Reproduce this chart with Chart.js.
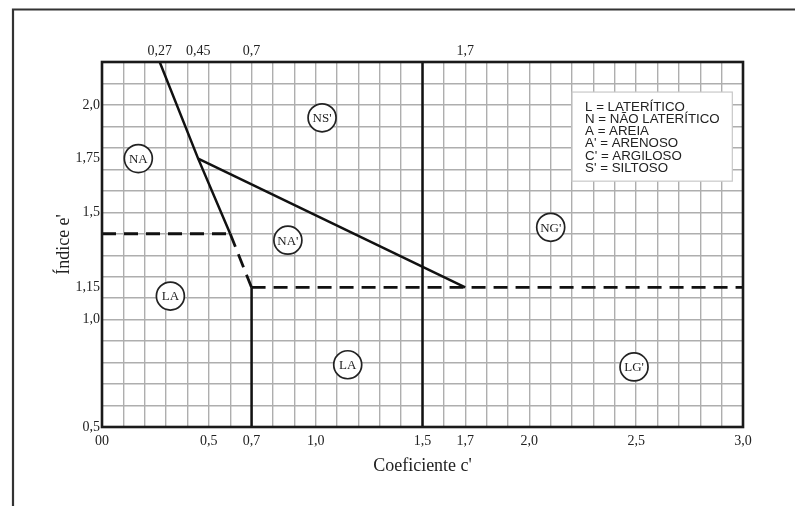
<!DOCTYPE html>
<html>
<head>
<meta charset="utf-8">
<script src="https://cdn.jsdelivr.net/npm/chart.js@4"></script>
<style>
html, body { margin: 0; padding: 0; background: #fff; }
#wrap { width: 795px; height: 506px; }
</style>
</head>
<body>
<div id="wrap"><canvas id="graficoMCT"></canvas></div>
<script>
// marcas dos eixos
const ticksC = [0, 0.5, 0.7, 1.0, 1.5, 1.7, 2.0, 2.5, 3.0];
const ticksCTopo = [0.27, 0.45, 0.7, 1.7];
const ticksE = [0.5, 1.0, 1.15, 1.5, 1.75, 2.0];

// limites entre os grupos (c', e')
const inclinadaC = [0.27, 0.45, 0.6];
const inclinadaE = [2.2, 1.75, 1.4];
const inclinadaTracC = [0.6, 0.7];
const inclinadaTracE = [1.4, 1.15];
const diagonalC = [0.45, 1.7];
const diagonalE = [1.75, 1.15];
const tracSupC = [0, 0.6];
const tracSupE = [1.4, 1.4];
const tracInfC = [0.7, 3.0];
const tracInfE = [1.15, 1.15];
const vert07C = [0.7, 0.7];
const vert07E = [0.5, 1.15];
const vert15C = [1.5, 1.5];
const vert15E = [0.5, 2.2];

// grupos
const grupos = ["NA", "NS'", "NA'", "LA", "LA", "NG'", "LG'"];
const gruposC = [0.17, 1.03, 0.87, 0.32, 1.15, 2.10, 2.49];
const gruposE = [1.75, 1.94, 1.37, 1.11, 0.79, 1.43, 0.78];

// legenda
const legendaTextos = ["L = LATERÍTICO", "N = NÃO LATERÍTICO", "A = AREIA", "A' = ARENOSO", "C' = ARGILOSO", "S' = SILTOSO"];

const pts = (xs, ys) => xs.map((x, i) => ({ x: x, y: ys[i] }));
const fmt = v => {
    if (Math.abs(v) < 1e-9) return "00";
    const s = Number.isInteger(v) ? v.toFixed(1) : String(+v.toFixed(2));
    return s.replace(".", ",");
};
const tem = (lista, v) => lista.some(t => Math.abs(t - v) < 1e-6);

const serif = "'Liberation Serif', 'DejaVu Serif', serif";
const fonteTick = { family: serif, size: 14 };
const corGrade = "#aeaeae";

function linha(xs, ys, tracejada) {
    return {
        type: "line",
        data: pts(xs, ys),
        borderColor: "#111",
        borderWidth: tracejada ? 2.8 : 2.5,
        borderDash: tracejada ? [14, 8] : [],
        pointRadius: 0,
        fill: false,
        tension: 0
    };
}

const datasets = [
    linha(inclinadaC, inclinadaE, false),
    linha(inclinadaTracC, inclinadaTracE, true),
    linha(diagonalC, diagonalE, false),
    linha(tracSupC, tracSupE, true),
    linha(tracInfC, tracInfE, true),
    linha(vert07C, vert07E, false),
    linha(vert15C, vert15E, false),
    {
        type: "scatter",
        data: pts(gruposC, gruposE),
        pointRadius: 14,
        pointHoverRadius: 14,
        pointBackgroundColor: "#fff",
        pointBorderColor: "#222",
        pointBorderWidth: 1.7
    }
];
const idxGrupos = datasets.length - 1;

const desenhos = {
    id: "desenhos",
    beforeDraw(chart) {
        const ctx = chart.ctx;
        ctx.save();
        ctx.fillStyle = "#fff";
        ctx.fillRect(0, 0, chart.width, chart.height);
        ctx.restore();
    },
    afterDatasetsDraw(chart) {
        const { ctx, chartArea: a, scales } = chart;
        ctx.save();

        // rótulos dos grupos
        ctx.fillStyle = "#222";
        ctx.font = "13px " + serif;
        ctx.textAlign = "center";
        ctx.textBaseline = "middle";
        chart.getDatasetMeta(idxGrupos).data.forEach((p, i) => {
            ctx.fillText(grupos[i], p.x, p.y + 1);
        });

        // caixa da legenda
        const x0 = scales.x.getPixelForValue(2.2);
        const x1 = scales.x.getPixelForValue(2.95);
        const y0 = scales.y.getPixelForValue(2.06);
        const y1 = scales.y.getPixelForValue(1.645);
        ctx.fillStyle = "#fff";
        ctx.fillRect(x0, y0, x1 - x0, y1 - y0);
        ctx.strokeStyle = "#c8c8c8";
        ctx.lineWidth = 1.2;
        ctx.strokeRect(x0, y0, x1 - x0, y1 - y0);
        ctx.fillStyle = "#222";
        ctx.font = "13.3px 'Liberation Sans', Arial, sans-serif";
        ctx.textAlign = "left";
        legendaTextos.forEach((t, i) => {
            ctx.fillText(t, x0 + 13, y0 + 15 + i * 12.2);
        });

        // moldura da área do gráfico
        ctx.strokeStyle = "#1a1a1a";
        ctx.lineWidth = 2.6;
        ctx.strokeRect(a.left, a.top, a.right - a.left, a.bottom - a.top);

        // moldura externa
        ctx.strokeStyle = "#333";
        ctx.lineWidth = 2.2;
        ctx.beginPath();
        ctx.moveTo(13, chart.height + 5);
        ctx.lineTo(13, 9.5);
        ctx.lineTo(chart.width + 5, 9.5);
        ctx.stroke();
        ctx.restore();
    }
};

new Chart(document.getElementById("graficoMCT").getContext("2d"), {
    type: "scatter",
    data: { datasets: datasets },
    options: {
        responsive: true,
        maintainAspectRatio: false,
        animation: false,
        layout: { padding: { left: 49, right: 52, top: 32, bottom: 25 } },
        plugins: { legend: { display: false }, tooltip: { enabled: false } },
        scales: {
            x: {
                type: "linear",
                position: "bottom",
                min: 0,
                max: 3,
                grid: { color: corGrade, lineWidth: 1.4, drawTicks: false },
                border: { display: false },
                ticks: {
                    stepSize: 0.1,
                    autoSkip: false,
                    maxRotation: 0,
                    padding: 6,
                    font: fonteTick,
                    color: "#222",
                    callback: v => tem(ticksC, v) ? fmt(v) : ""
                },
                title: {
                    display: true,
                    text: "Coeficiente c'",
                    font: { family: serif, size: 18 },
                    color: "#222",
                    padding: { top: 4, bottom: 4 }
                },
                afterFit: s => { s.height = 54; }
            },
            x2: {
                type: "linear",
                position: "top",
                min: 0,
                max: 3,
                grid: { display: false, drawTicks: false },
                border: { display: false },
                afterBuildTicks: s => { s.ticks = ticksCTopo.map(v => ({ value: v })); },
                ticks: {
                    autoSkip: false,
                    maxRotation: 0,
                    padding: 2,
                    font: fonteTick,
                    color: "#222",
                    callback: v => fmt(v)
                },
                afterFit: s => { s.height = 30; }
            },
            y: {
                type: "linear",
                min: 0.5,
                max: 2.2,
                afterBuildTicks: s => {
                    const vals = [];
                    for (let k = 5; k <= 22; k++) vals.push(k / 10);
                    ticksE.forEach(v => { if (!tem(vals, v)) vals.push(v); });
                    vals.sort((a, b) => a - b);
                    s.ticks = vals.map(v => ({ value: v }));
                },
                grid: {
                    color: c => (c.tick && tem([1.15, 1.75], c.tick.value)) ? "rgba(0,0,0,0)" : corGrade,
                    lineWidth: 1.4,
                    drawTicks: false
                },
                border: { display: false },
                ticks: {
                    autoSkip: false,
                    padding: 2,
                    font: fonteTick,
                    color: "#222",
                    callback: v => tem(ticksE, v) ? fmt(v) : ""
                },
                title: {
                    display: true,
                    text: "Índice e'",
                    font: { family: serif, size: 18 },
                    color: "#222",
                    padding: { top: 4, bottom: 4 }
                },
                afterFit: s => { s.width = 53; }
            }
        }
    },
    plugins: [desenhos]
});
</script>
</body>
</html>
